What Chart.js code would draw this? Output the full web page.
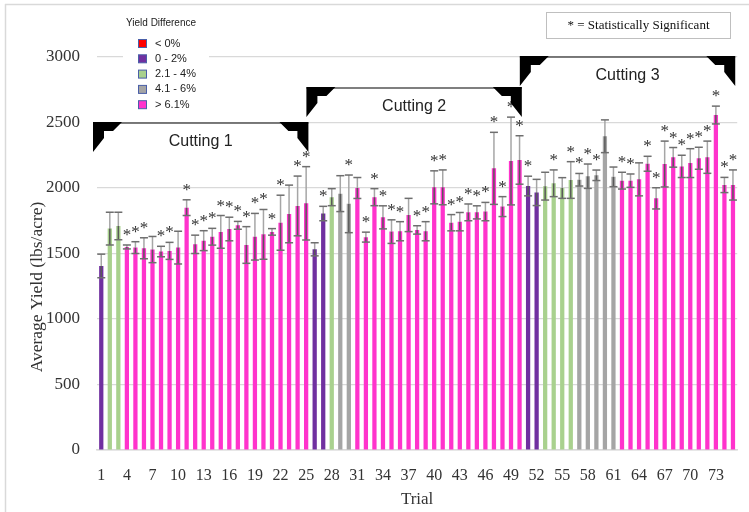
<!DOCTYPE html>
<html>
<head>
<meta charset="utf-8">
<script src="https://cdn.jsdelivr.net/npm/chart.js@4.4.1/dist/chart.umd.min.js"></script>
<style>
  html, body { margin: 0; padding: 0; background: #fff; }
  #wrap { width: 749px; height: 512px; position: relative; }
</style>
</head>
<body>
<div id="wrap"><canvas id="myChart"></canvas></div>
<script>
const trials = [1,2,3,4,5,6,7,8,9,10,11,12,13,14,15,16,17,18,19,20,21,22,23,24,25,
  26,27,28,29,30,31,32,33,34,35,36,37,38,39,40,41,42,43,44,45,46,47,48,49,50,
  51,52,53,54,55,56,57,58,59,60,61,62,63,64,65,66,67,68,69,70,71,72,73,74,75];

// average yield per trial (lbs/acre)
const yieldValues = [1405,1690,1710,1550,1545,1540,1530,1515,1520,1545,1850,1570,1598,1628,1665,1687,1715,1565,1628,1646,1665,1735,1802,1863,1883,
  1532,1805,1930,1957,1879,2000,1625,1930,1776,1667,1670,1794,1680,1670,2005,2005,1735,1743,1814,1814,1820,2150,1858,2206,2214,
  2015,1966,2014,2036,2000,2061,2063,2090,2097,2395,2085,2056,2056,2066,2185,1921,2183,2234,2165,2190,2227,2235,2557,2023,2023];

// +/- error per trial
const yieldErrors = [90,125,105,15,45,80,100,40,65,125,60,70,76,64,125,90,30,140,178,190,25,210,220,228,280,
  50,55,65,137,220,80,38,65,88,90,73,127,32,73,126,133,62,70,64,50,70,275,76,335,185,
  75,100,106,102,79,140,48,93,40,125,75,64,51,126,57,81,175,75,85,110,84,123,68,58,115];

// index into groupLabels for each trial
const groupOfTrial = [1,2,2,
  4,4,4,4,4,4,4,4,4,4,4,4,4,4,4,4,4,4,4,4,4,4,
  1,1,2,3,3,
  4,4,4,4,4,4,4,4,4,4,4,4,4,4,4,4,4,4,4,4,
  1,1,2,2,2,2,3,3,3,3,3,
  4,4,4,4,4,4,4,4,4,4,4,4,4,4];

const significantTrials = [4,5,6,8,9,11,12,13,14,15,16,17,18,19,20,21,22,24,25,
  27,30,32,33,34,35,36,38,39,40,41,42,43,44,45,46,47,48,49,50,
  51,54,56,57,58,59,62,63,65,66,67,68,69,70,71,72,73,74,75];

const groupLabels = ['< 0%', '0 - 2%', '2.1 - 4%', '4.1 - 6%', '> 6.1%'];
const groupColors = ['#ff0000', '#7030a0', '#a9d18e', '#a5a5a5', '#ff33cc'];

const cuttingLabels = ['Cutting 1', 'Cutting 2', 'Cutting 3'];
const cuttingFirst = [1, 26, 51];
const cuttingLast = [25, 50, 75];
const cuttingLevel = [2500, 2770, 3010];

const serif = "'Liberation Serif', 'Times New Roman', serif";
const sans = "'Liberation Sans', Arial, sans-serif";

function strokeLine(ctx, x1, y1, x2, y2) {
  ctx.beginPath();
  ctx.moveTo(x1, y1);
  ctx.lineTo(x2, y2);
  ctx.stroke();
}

// error bars + asterisks for significant trials
const errorBarPlugin = {
  id: 'errorBars',
  afterDatasetsDraw(chart) {
    const { ctx, scales: { x, y } } = chart;
    ctx.save();
    ctx.lineWidth = 1.5;
    ctx.font = `17px ${serif}`;
    ctx.fillStyle = '#333';
    ctx.textAlign = 'center';
    ctx.textBaseline = 'alphabetic';
    yieldValues.forEach((v, i) => {
      const px = x.getPixelForValue(i);
      const yv = y.getPixelForValue(v);
      const yHi = y.getPixelForValue(v + yieldErrors[i]);
      const yLo = y.getPixelForValue(v - yieldErrors[i]);
      ctx.strokeStyle = '#a6a6a6';
      strokeLine(ctx, px, yHi, px, yv);
      ctx.strokeStyle = '#595959';
      strokeLine(ctx, px, yv, px, yLo);
      ctx.strokeStyle = '#6e6e6e';
      strokeLine(ctx, px - 4, yHi, px + 4, yHi);
      strokeLine(ctx, px - 4, yLo, px + 4, yLo);
      if (significantTrials.includes(trials[i])) {
        ctx.fillText('*', px, yHi - 5);
      }
    });
    ctx.restore();
  }
};

// legend box, note box, cutting brackets, y title, outer frame
const decorPlugin = {
  id: 'decor',
  afterDraw(chart) {
    const { ctx, scales: { x, y } } = chart;
    ctx.save();

    // outer frame
    ctx.strokeStyle = '#d9d9d9';
    ctx.lineWidth = 1.5;
    strokeLine(ctx, 5, 4.5, 749, 4.5);
    strokeLine(ctx, 5.5, 4, 5.5, 512);

    // y axis title (sits a bit below the plot middle in the original)
    ctx.save();
    ctx.translate(37, 287);
    ctx.rotate(-Math.PI / 2);
    ctx.fillStyle = '#333';
    ctx.font = `17.5px ${serif}`;
    ctx.textAlign = 'center';
    ctx.textBaseline = 'middle';
    ctx.fillText('Average Yield (lbs/acre)', 0, 0);
    ctx.restore();

    // legend
    ctx.fillStyle = '#fff';
    ctx.fillRect(123, 14, 86, 98);
    ctx.fillStyle = '#222';
    ctx.font = `10px ${sans}`;
    ctx.textBaseline = 'middle';
    ctx.textAlign = 'left';
    ctx.fillText('Yield Difference', 126, 23);
    ctx.font = `11px ${sans}`;
    groupLabels.forEach((lab, k) => {
      const cy = 43.5 + k * 15.3;
      ctx.fillStyle = groupColors[k];
      ctx.fillRect(138.5, cy - 4, 8, 8);
      ctx.strokeStyle = '#4a5fa8';
      ctx.lineWidth = 1;
      ctx.strokeRect(138.5, cy - 4, 8, 8);
      ctx.fillStyle = '#222';
      ctx.fillText(lab, 155, cy);
    });

    // significance note
    ctx.strokeStyle = '#bfbfbf';
    ctx.lineWidth = 1;
    ctx.strokeRect(546.5, 12.5, 184, 26);
    ctx.fillStyle = '#111';
    ctx.font = `13px ${serif}`;
    ctx.textAlign = 'center';
    ctx.fillText('* = Statistically Significant', 638.5, 26);

    // cutting brackets
    const w = x.getPixelForValue(1) - x.getPixelForValue(0);
    cuttingLabels.forEach((lab, k) => {
      const L = x.getPixelForValue(cuttingFirst[k] - 1) - w / 2 - 4;
      const R = x.getPixelForValue(cuttingLast[k] - 1) + w / 2 - 2;
      const T = Math.round(y.getPixelForValue(cuttingLevel[k]));
      ctx.strokeStyle = '#555';
      ctx.lineWidth = 1.5;
      strokeLine(ctx, L, T + 1, R, T + 1);
      ctx.fillStyle = '#000';
      ctx.beginPath();
      ctx.moveTo(L, T); ctx.lineTo(L + 29, T); ctx.lineTo(L + 20, T + 9);
      ctx.lineTo(L + 11, T + 9); ctx.lineTo(L + 11, T + 16); ctx.lineTo(L, T + 30);
      ctx.closePath(); ctx.fill();
      ctx.beginPath();
      ctx.moveTo(R, T); ctx.lineTo(R - 29, T); ctx.lineTo(R - 20, T + 9);
      ctx.lineTo(R - 11, T + 9); ctx.lineTo(R - 11, T + 16); ctx.lineTo(R, T + 30);
      ctx.closePath(); ctx.fill();
      ctx.fillStyle = '#222';
      ctx.font = `16px ${sans}`;
      ctx.textAlign = 'center';
      ctx.textBaseline = 'middle';
      ctx.fillText(lab, (L + R) / 2, T + 20);
    });

    ctx.restore();
  }
};

const ctx = document.getElementById('myChart').getContext('2d');
new Chart(ctx, {
  type: 'bar',
  data: {
    labels: trials,
    datasets: [{
      label: 'Average Yield',
      data: yieldValues,
      backgroundColor: groupOfTrial.map(g => groupColors[g]),
      borderWidth: 0,
      barPercentage: 0.5,
      categoryPercentage: 1
    }]
  },
  options: {
    responsive: true,
    maintainAspectRatio: false,
    animation: false,
    devicePixelRatio: 1,
    layout: { padding: { left: 0, right: 6, top: 57, bottom: 0 } },
    plugins: {
      legend: { display: false },
      tooltip: { enabled: false }
    },
    scales: {
      x: {
        afterFit: (scale) => { scale.height = 62; },
        grid: { display: false, drawTicks: false },
        border: { color: '#d9d9d9', width: 1.5 },
        ticks: {
          autoSkip: false,
          maxRotation: 0,
          minRotation: 0,
          padding: 16,
          color: '#333',
          font: { family: serif, size: 16 },
          callback: (val, idx) => (idx % 3 === 0 ? trials[idx] : '')
        },
        title: {
          display: true,
          text: 'Trial',
          color: '#333',
          font: { family: serif, size: 17 },
          padding: { top: 0, bottom: 2 }
        }
      },
      y: {
        min: 0,
        max: 3000,
        afterFit: (scale) => { scale.width = 97; },
        grid: { color: '#d9d9d9', lineWidth: 1.2, drawTicks: false },
        border: { display: false },
        ticks: {
          stepSize: 500,
          padding: 17,
          color: '#333',
          font: { family: serif, size: 17 },
          callback: (val) => String(val)
        }
      }
    }
  },
  plugins: [errorBarPlugin, decorPlugin]
});
</script>
</body>
</html>
